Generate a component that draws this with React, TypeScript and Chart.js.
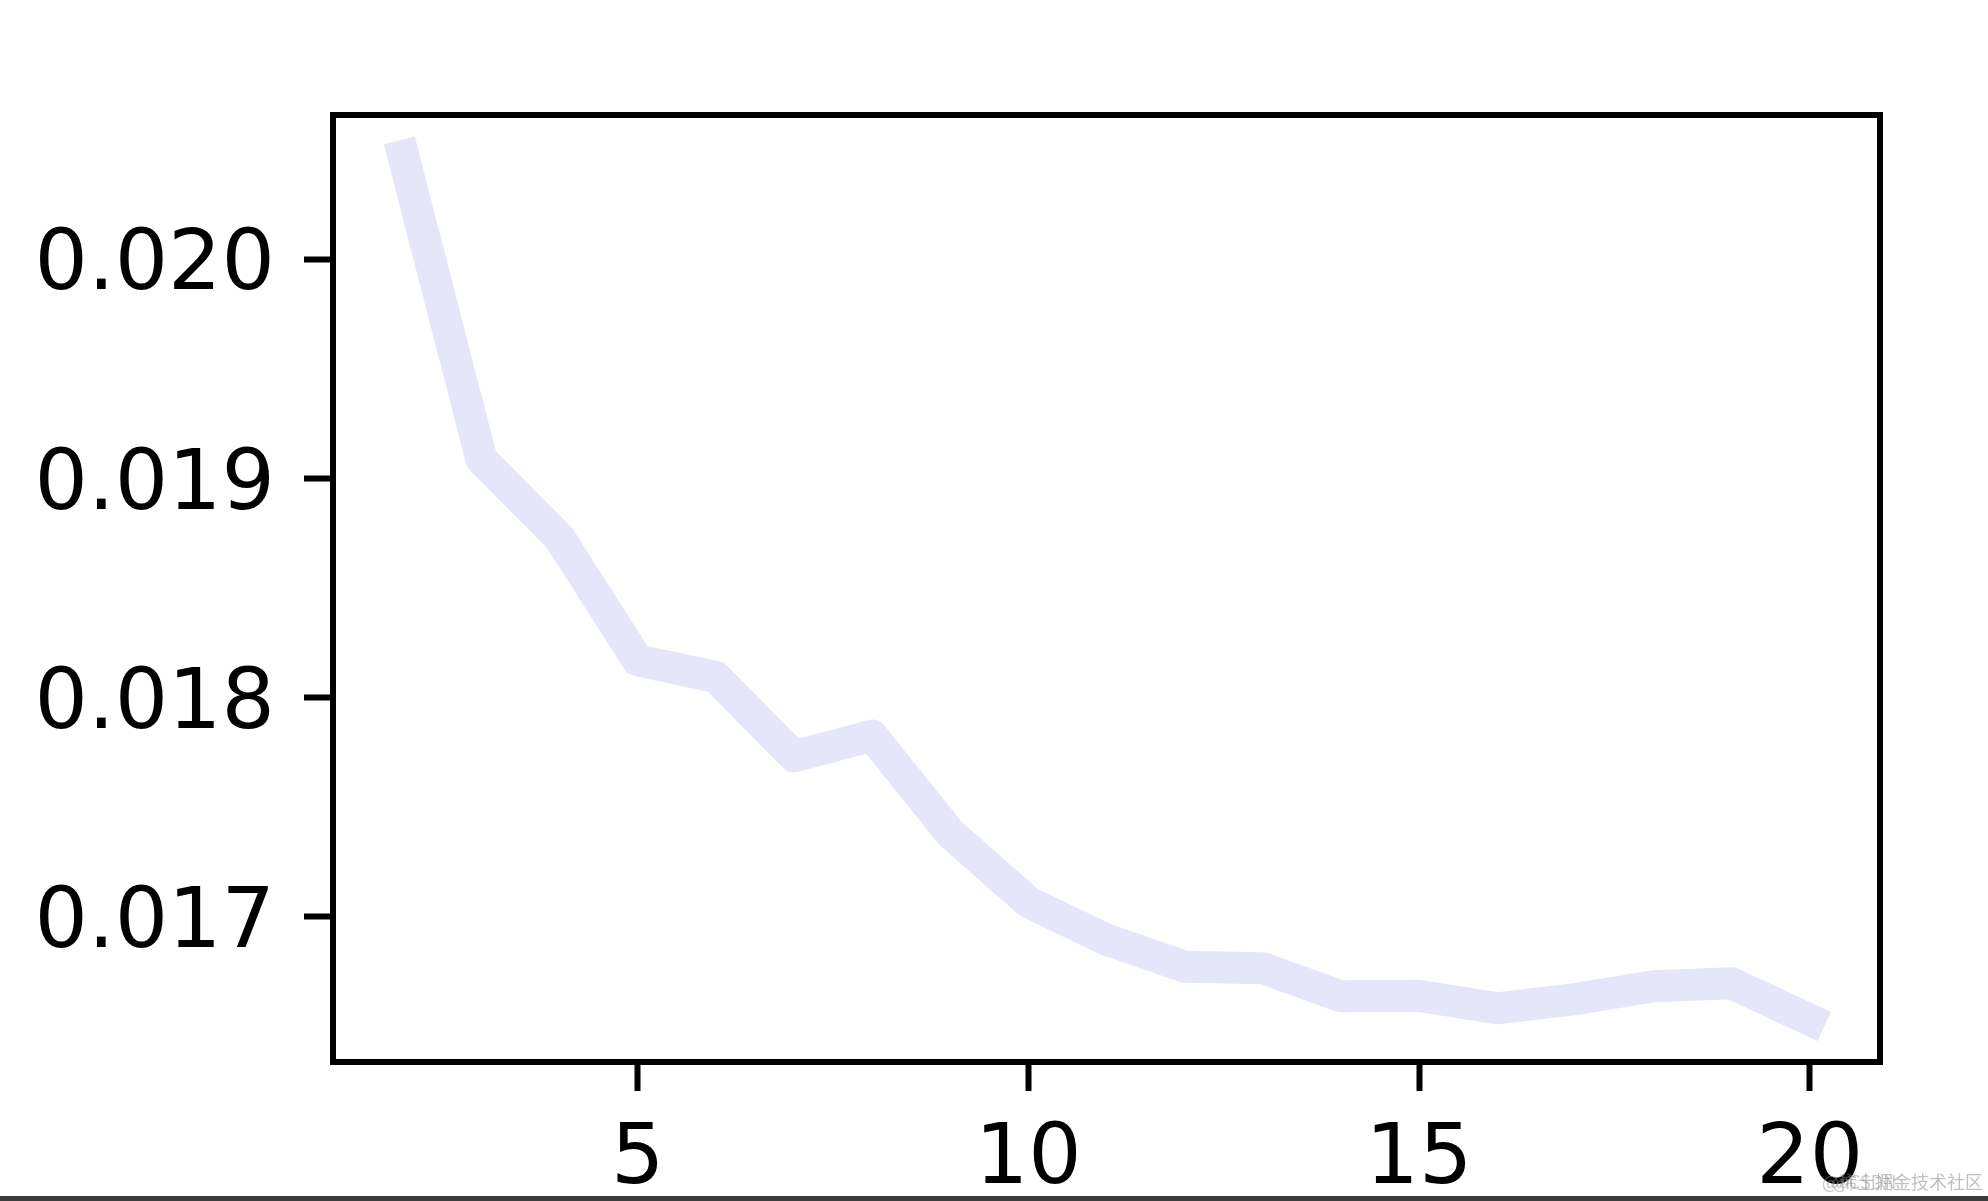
import React, { useEffect, useRef } from "react";
import { Chart, registerables } from "chart.js";

Chart.register(...registerables);

const xValues = [2, 3, 4, 5, 6, 7, 8, 9, 10, 11, 12, 13, 14, 15, 16, 17, 18, 19, 20];
const yValues = [
  0.020473, 0.019089, 0.018729, 0.018171, 0.018095, 0.017733, 0.017827, 0.017383,
  0.017068, 0.016896, 0.016773, 0.016766, 0.016638, 0.01664, 0.016583, 0.016625,
  0.016684, 0.016697, 0.016531,
];
const xTicks = [5, 10, 15, 20];
const yTicks = [0.017, 0.018, 0.019, 0.02];
const xRange = [1.1, 20.9];
const yRange = [0.016338, 0.02066];

const W = 1988;
const H = 1201;

const framePlugin = {
  id: "frame",
  afterDatasetsDraw(chart: any) {
    const { ctx, chartArea } = chart;
    ctx.save();
    ctx.strokeStyle = "#000000";
    ctx.lineWidth = 6;
    ctx.strokeRect(chartArea.left, chartArea.top, chartArea.right - chartArea.left, chartArea.bottom - chartArea.top);
    ctx.restore();
  },
};

export default function App() {
  const ref = useRef<HTMLCanvasElement | null>(null);

  useEffect(() => {
    if (!ref.current) return;
    const font = { family: "'DejaVu Sans'", size: 84 };
    const chart = new Chart(ref.current, {
      type: "line",
      data: {
        datasets: [
          {
            data: xValues.map((x, i) => ({ x, y: yValues[i] })),
            borderColor: "#E6E6FA",
            borderWidth: 32,
            borderCapStyle: "square",
            borderJoinStyle: "round",
            pointRadius: 0,
            tension: 0,
            fill: false,
            clip: false,
          } as any,
        ],
      },
      options: {
        animation: false,
        responsive: false,
        maintainAspectRatio: false,
        layout: { padding: { top: 115, right: 108, bottom: 0, left: 0 } },
        plugins: { legend: { display: false }, tooltip: { enabled: false } },
        scales: {
          x: {
            type: "linear",
            min: xRange[0],
            max: xRange[1],
            afterBuildTicks: (scale: any) => {
              scale.ticks = xTicks.map((v) => ({ value: v }));
            },
            afterFit: (scale: any) => {
              scale.height = H - 1062;
            },
            grid: {
              display: true,
              drawOnChartArea: false,
              drawTicks: true,
              tickLength: 29,
              tickWidth: 6,
              tickColor: "#000000",
            },
            border: { display: false },
            ticks: {
              font,
              color: "#000000",
              padding: 20,
              maxRotation: 0,
              autoSkip: false,
              callback: (v: any) => String(v),
            },
          },
          y: {
            type: "linear",
            min: yRange[0],
            max: yRange[1],
            afterBuildTicks: (scale: any) => {
              scale.ticks = yTicks.map((v) => ({ value: v }));
            },
            afterFit: (scale: any) => {
              scale.width = 333;
            },
            grid: {
              display: true,
              drawOnChartArea: false,
              drawTicks: true,
              tickLength: 29,
              tickWidth: 6,
              tickColor: "#000000",
            },
            border: { display: false },
            ticks: {
              font,
              color: "#000000",
              padding: 29,
              labelOffset: 8,
              autoSkip: false,
              callback: (v: any) => Number(v).toFixed(3),
            },
          },
        },
      },
      plugins: [framePlugin],
    });
    return () => chart.destroy();
  }, []);

  return (
    <div style={{ position: "absolute", left: 0, top: 0, width: W, height: H, background: "#ffffff", overflow: "hidden" }}>
      <canvas ref={ref} width={W} height={H} style={{ position: "absolute", left: 0, top: 0, width: W, height: H }} />
      <div
        style={{
          position: "absolute",
          left: 1822,
          top: 1172,
          fontFamily: "'Noto Sans CJK SC'",
          fontSize: 18,
          lineHeight: "18px",
          color: "rgba(140,140,140,0.55)",
          whiteSpace: "nowrap",
        }}
      >
        @稀土掘金技术社区
      </div>
      <div
        style={{
          position: "absolute",
          left: 1832,
          top: 1172,
          fontFamily: "'Noto Sans CJK SC'",
          fontSize: 18,
          lineHeight: "18px",
          color: "rgba(140,140,140,0.45)",
          whiteSpace: "nowrap",
        }}
      >
        @CSDN
      </div>
      <div style={{ position: "absolute", left: 0, top: 1196, width: W, height: 5, background: "#3c3c3c" }} />
    </div>
  );
}
